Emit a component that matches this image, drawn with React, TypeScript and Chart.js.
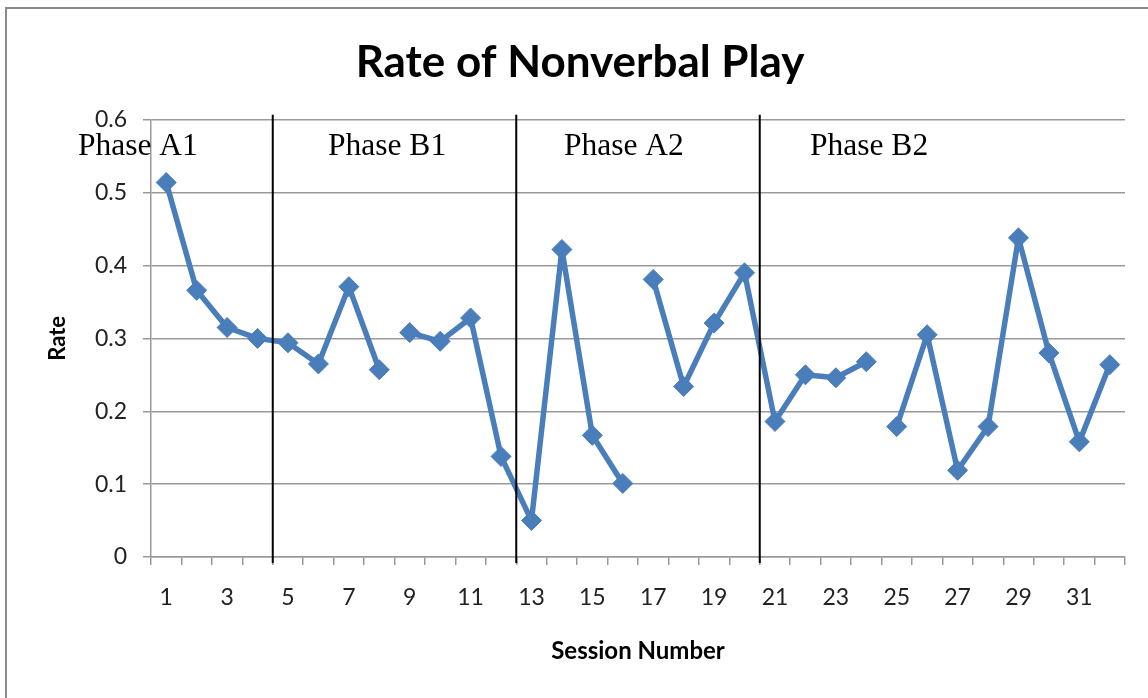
import { useEffect, useRef } from 'react';
import { Chart, registerables } from 'chart.js';

Chart.register(...registerables);

const sessions = [
  '1', '2', '3', '4', '5', '6', '7', '8', '9', '10', '11', '12', '13', '14', '15', '16',
  '17', '18', '19', '20', '21', '22', '23', '24', '25', '26', '27', '28', '29', '30', '31', '32',
];
const rates = [
  0.514, 0.366, 0.315, 0.300, 0.294, 0.265, 0.371, 0.257,
  0.308, 0.296, 0.328, 0.138, 0.050, 0.422, 0.167, 0.101,
  0.381, 0.234, 0.321, 0.390, 0.186, 0.250, 0.246, 0.268,
  0.179, 0.305, 0.119, 0.179, 0.438, 0.280, 0.158, 0.264,
];
// line is broken after these sessions
const breaksAfter = [8, 16, 24];
// phase change lines lie between these sessions
const phaseBoundaries = [4.5, 12.5, 20.5];
const phaseLabels = ['Phase A1', 'Phase B1', 'Phase A2', 'Phase B2'];
const yTickValues = [0, 0.1, 0.2, 0.3, 0.4, 0.5, 0.6];

const LINE_BLUE = '#4A7EBB';

const framePlugin = {
  id: 'frame',
  beforeDraw(chart: any) {
    const { ctx, width, height } = chart;
    ctx.save();
    ctx.fillStyle = '#ffffff';
    ctx.fillRect(0, 0, width, height);
    ctx.strokeStyle = '#8a8a8a';
    ctx.lineWidth = 2;
    ctx.strokeRect(6, 8, width + 40, height + 40);
    ctx.restore();
  },
};

const phasePlugin = {
  id: 'phases',
  afterDatasetsDraw(chart: any) {
    const { ctx, scales } = chart;
    const x = scales.x;
    ctx.save();
    ctx.strokeStyle = '#000000';
    ctx.lineWidth = 2;
    phaseBoundaries.forEach((b) => {
      const lo = Math.floor(b) - 1;
      const hi = Math.ceil(b) - 1;
      const px = (x.getPixelForValue(lo) + x.getPixelForValue(hi)) / 2;
      ctx.beginPath();
      ctx.moveTo(px, chart.chartArea.top - 5);
      ctx.lineTo(px, chart.chartArea.bottom + 6);
      ctx.stroke();
    });
    const labelX = [78, 328, 564, 810];
    ctx.fillStyle = '#000000';
    ctx.font = '31.5px "Liberation Serif", serif';
    ctx.textBaseline = 'alphabetic';
    ctx.textAlign = 'left';
    phaseLabels.forEach((t, i) => {
      ctx.fillText(t, labelX[i], 155);
    });
    ctx.restore();
  },
};

export default function App() {
  const canvasRef = useRef<HTMLCanvasElement | null>(null);

  useEffect(() => {
    document.body.style.margin = '0';
    const canvas = canvasRef.current;
    if (!canvas) return;
    const chart = new Chart(canvas, {
      type: 'line',
      data: {
        labels: sessions,
        datasets: [
          {
            label: 'Rate',
            data: rates,
            borderColor: LINE_BLUE,
            backgroundColor: LINE_BLUE,
            borderWidth: 5.5,
            borderJoinStyle: 'round',
            pointStyle: 'rectRot',
            pointRadius: 10,
            pointHoverRadius: 10,
            pointBackgroundColor: LINE_BLUE,
            pointBorderColor: LINE_BLUE,
            pointBorderWidth: 1,
            tension: 0,
            segment: {
              borderColor: (ctx: any) =>
                breaksAfter.includes(ctx.p0DataIndex + 1) ? 'rgba(0,0,0,0)' : undefined,
            },
          },
        ],
      },
      options: {
        responsive: false,
        animation: false,
        layout: { padding: { left: 35, right: 23, top: 0, bottom: 0 } },
        plugins: {
          legend: { display: false },
          tooltip: { enabled: false },
          title: {
            display: true,
            text: 'Rate of Nonverbal Play',
            color: '#000000',
            font: { family: 'Lato', size: 44, weight: 'bold', lineHeight: 1.2 },
            padding: { top: 36, bottom: 31 },
          },
        },
        scales: {
          x: {
            type: 'category',
            offset: true,
            grid: {
              offset: true,
              drawOnChartArea: false,
              drawTicks: true,
              tickLength: 8,
              color: '#999999',
              lineWidth: 1.5,
            },
            border: { display: true, color: '#999999', width: 1.5 },
            ticks: {
              autoSkip: false,
              maxRotation: 0,
              minRotation: 0,
              padding: 19,
              color: '#222222',
              font: { family: 'Lato', size: 23 },
              callback: (_v: any, i: number) => (i % 2 === 0 ? sessions[i] : ''),
            },
            title: {
              display: true,
              text: 'Session Number',
              color: '#000000',
              font: { family: 'Lato', size: 24, weight: 'bold', lineHeight: 1.2 },
              padding: { top: 0, bottom: 32 },
            },
            afterFit: (s: any) => {
              s.height = 141;
            },
          },
          y: {
            min: 0,
            max: 0.6,
            afterBuildTicks: (s: any) => {
              s.ticks = yTickValues.map((v) => ({ value: v }));
            },
            grid: {
              color: '#999999',
              lineWidth: 1.5,
              drawTicks: true,
              tickLength: 8,
            },
            border: { display: true, color: '#999999', width: 1.5 },
            ticks: {
              padding: 16,
              color: '#222222',
              font: { family: 'Lato', size: 23 },
              callback: (v: any) => (Number(v) === 0 ? '0' : Number(v).toFixed(1)),
            },
            title: {
              display: true,
              text: 'Rate',
              color: '#000000',
              font: { family: 'Lato', size: 22, weight: 'bold', lineHeight: 1.2 },
              padding: { top: 10, bottom: 0 },
            },
            afterFit: (s: any) => {
              s.width = 116;
            },
          },
        },
      },
      plugins: [framePlugin, phasePlugin],
    });
    return () => chart.destroy();
  }, []);

  return (
    <div style={{ width: 1148, height: 698 }}>
      <canvas ref={canvasRef} width={1148} height={698} style={{ display: 'block' }} />
    </div>
  );
}
